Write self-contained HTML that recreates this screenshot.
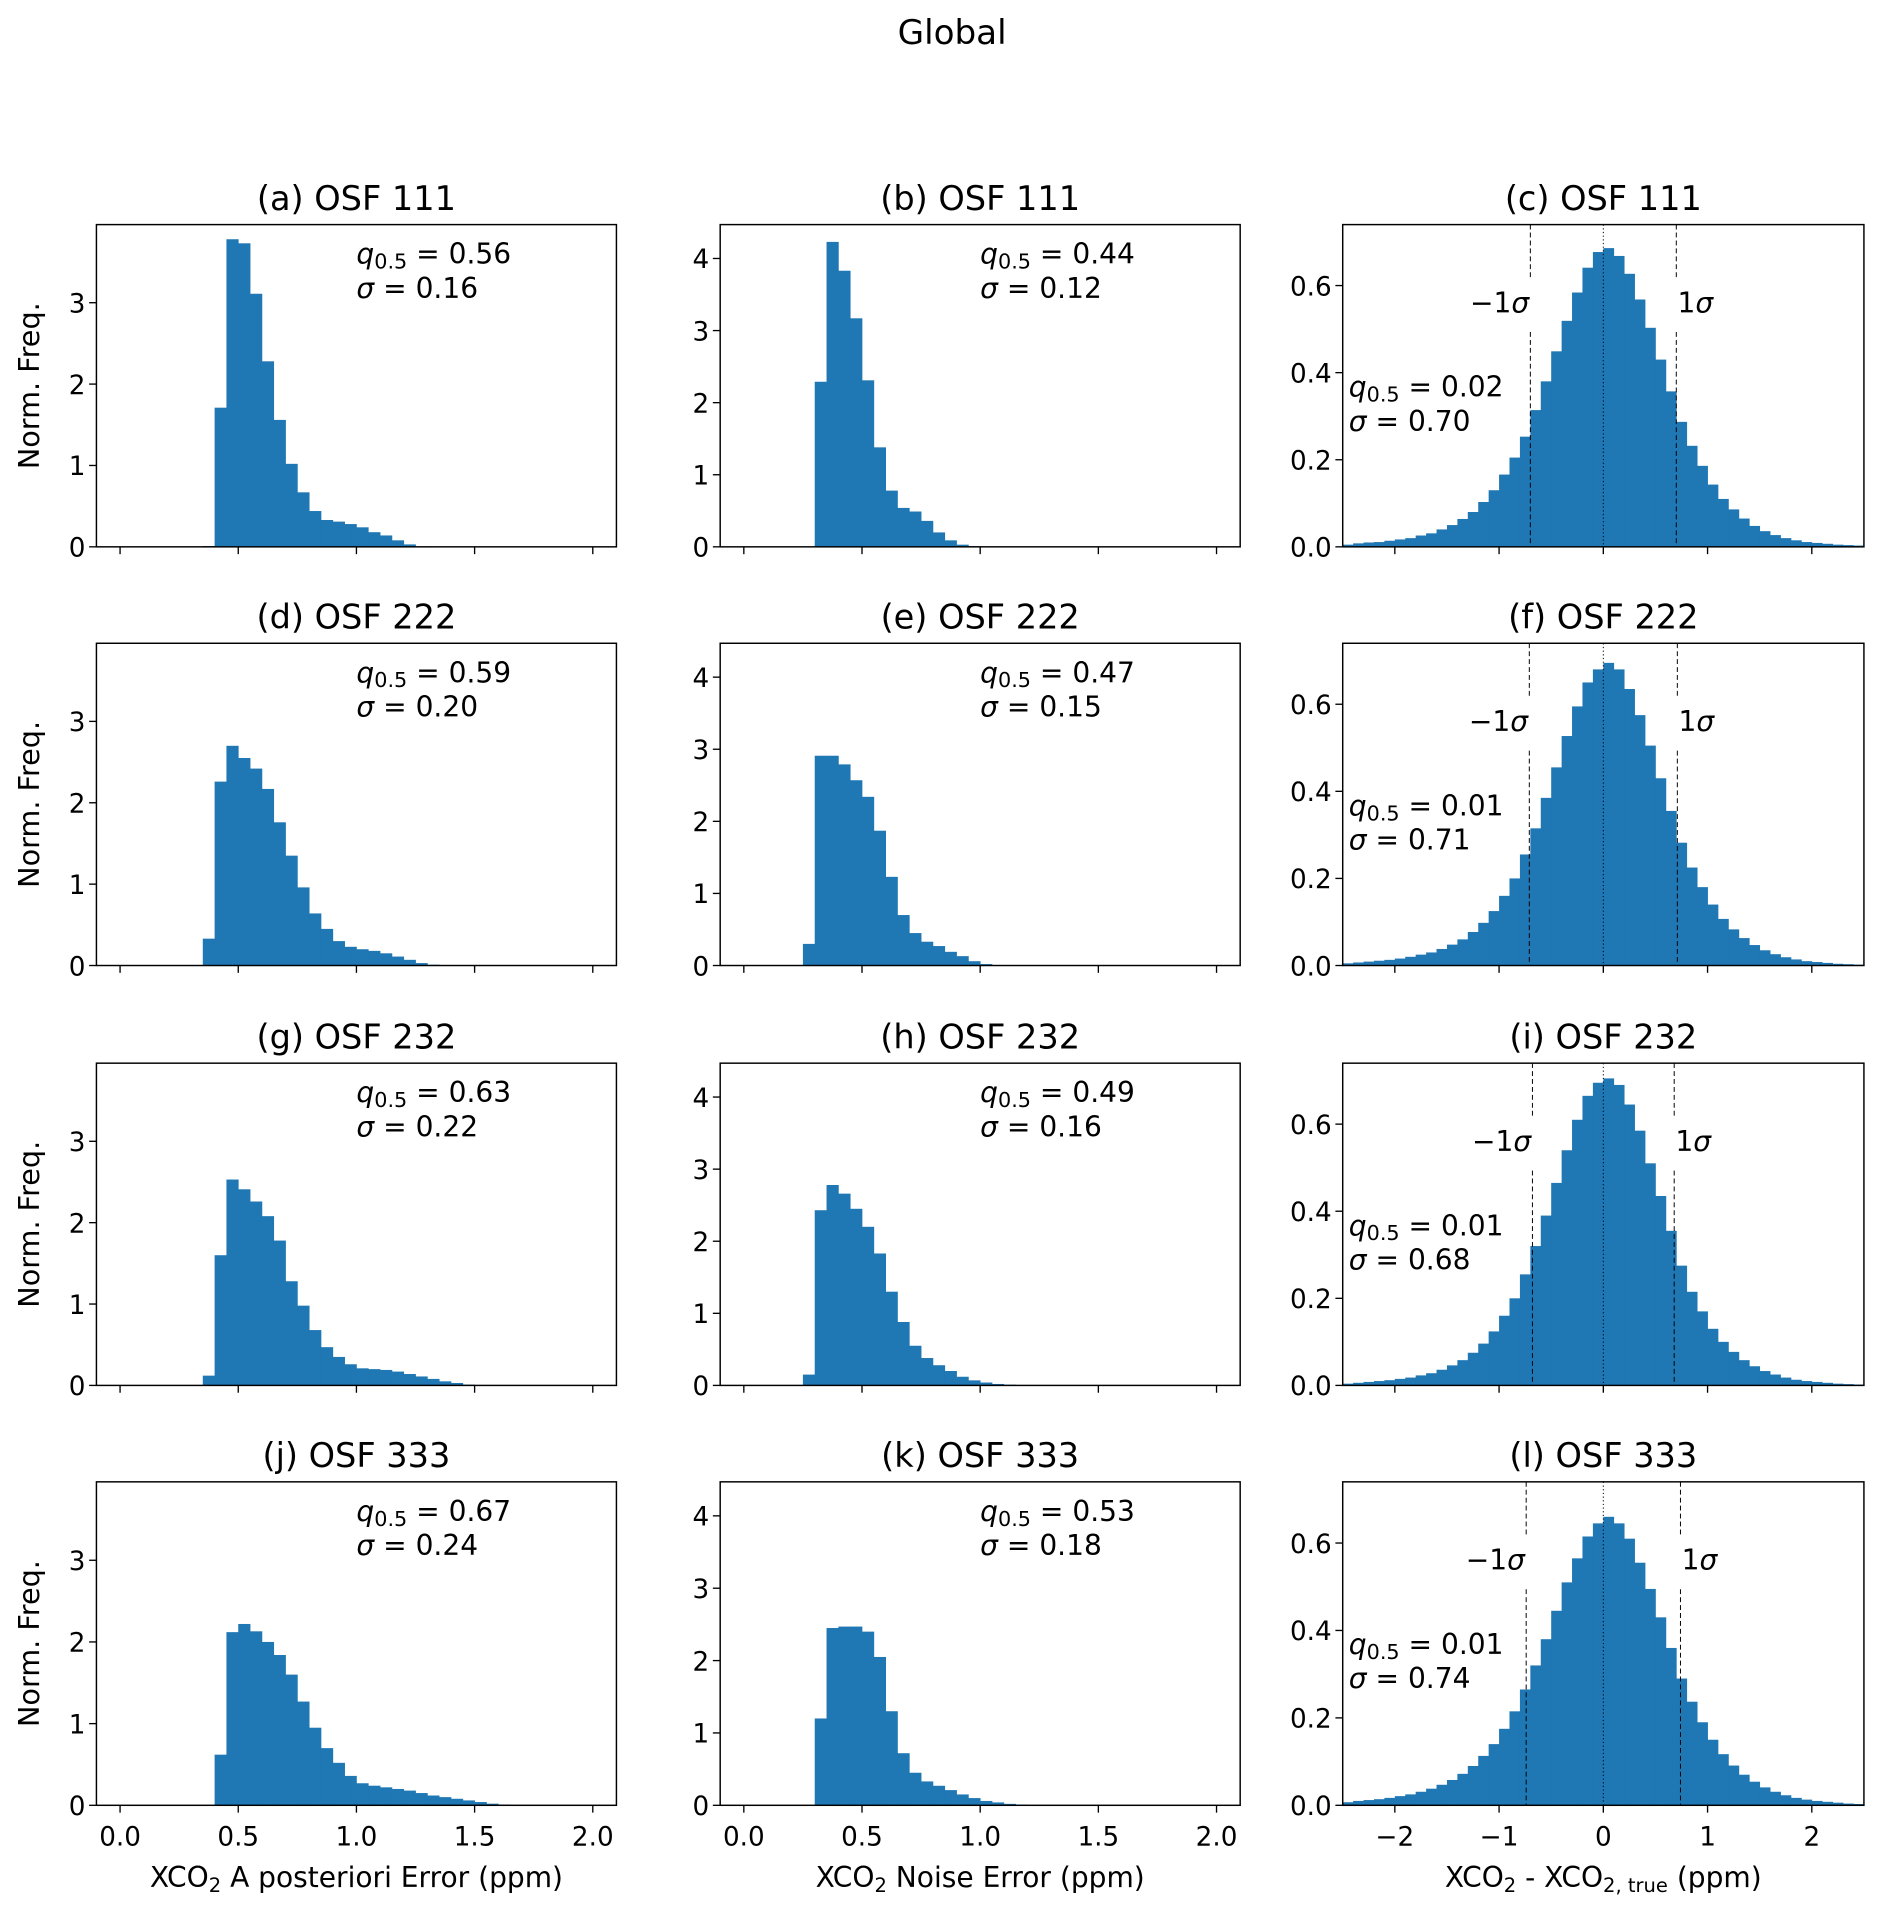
<!DOCTYPE html>
<html><head><meta charset="utf-8"><title>Global</title>
<style>
html,body{margin:0;padding:0;background:#fff;}
svg{display:block;}
text{font-family:"DejaVu Sans","Liberation Sans",sans-serif;fill:#000;}
</style></head>
<body>
<svg id="fig" width="1892" height="1922" viewBox="0 0 1550 1574.6" preserveAspectRatio="none" xmlns="http://www.w3.org/2000/svg">
<text x="780" y="36" font-size="28" text-anchor="middle">Global</text>
</svg>
<script>
// ---- data ----
const aStart = [0.35, 0.35, 0.35, 0.35];
const aVals1 = [0.01,1.71,3.78,3.73,3.11,2.28,1.56,1.02,0.67,0.44,0.33,0.31,0.28,0.24,0.18,0.14,0.08,0.03,0.005];
const aVals2 = [0.33,2.26,2.70,2.55,2.42,2.17,1.76,1.35,0.96,0.64,0.45,0.30,0.23,0.20,0.18,0.15,0.11,0.07,0.03,0.01];
const aVals3 = [0.12,1.60,2.53,2.41,2.26,2.08,1.78,1.28,0.98,0.68,0.47,0.35,0.26,0.21,0.20,0.19,0.17,0.14,0.11,0.08,0.05,0.03,0.01];
const aVals4 = [0.0,0.62,2.12,2.22,2.13,2.00,1.84,1.60,1.27,0.95,0.70,0.52,0.36,0.27,0.24,0.22,0.20,0.18,0.15,0.12,0.10,0.08,0.06,0.04,0.02,0.01];
const bStart = [0.30, 0.25, 0.25, 0.30];
const bVals1 = [2.29,4.23,3.83,3.17,2.31,1.38,0.78,0.54,0.49,0.36,0.20,0.09,0.03,0.01];
const bVals2 = [0.30,2.91,2.91,2.79,2.57,2.34,1.87,1.23,0.70,0.45,0.33,0.27,0.19,0.13,0.06,0.02];
const bVals3 = [0.15,2.43,2.78,2.66,2.45,2.20,1.83,1.30,0.88,0.55,0.38,0.28,0.20,0.12,0.07,0.04,0.02,0.01];
const bVals4 = [1.20,2.45,2.47,2.47,2.40,2.05,1.30,0.72,0.45,0.33,0.27,0.21,0.15,0.10,0.06,0.04,0.02,0.01];
const cStart = -2.5;
const cVals1 = [0.005,0.008,0.01,0.011,0.014,0.017,0.02,0.026,0.031,0.04,0.05,0.064,0.08,0.103,0.13,0.166,0.205,0.253,0.314,0.38,0.449,0.519,0.584,0.641,0.677,0.686,0.668,0.627,0.568,0.503,0.43,0.357,0.287,0.232,0.186,0.143,0.11,0.086,0.065,0.048,0.036,0.027,0.02,0.015,0.011,0.009,0.007,0.005,0.004,0.003];
const cVals2 = [0.005,0.007,0.009,0.011,0.013,0.016,0.02,0.025,0.03,0.038,0.048,0.06,0.077,0.098,0.125,0.16,0.2,0.255,0.315,0.385,0.455,0.527,0.595,0.65,0.68,0.695,0.68,0.635,0.575,0.505,0.43,0.355,0.282,0.225,0.18,0.14,0.107,0.083,0.063,0.047,0.035,0.026,0.019,0.014,0.01,0.008,0.006,0.004,0.003,0.002];
const cVals3 = [0.004,0.006,0.008,0.01,0.012,0.015,0.018,0.023,0.028,0.036,0.046,0.058,0.075,0.096,0.124,0.16,0.2,0.255,0.32,0.39,0.465,0.54,0.61,0.665,0.695,0.705,0.69,0.645,0.585,0.51,0.435,0.355,0.275,0.215,0.17,0.13,0.1,0.077,0.058,0.044,0.033,0.025,0.018,0.013,0.01,0.008,0.006,0.004,0.003,0.002];
const cVals4 = [0.007,0.01,0.012,0.014,0.017,0.021,0.025,0.031,0.038,0.047,0.058,0.072,0.09,0.113,0.14,0.175,0.215,0.265,0.32,0.38,0.445,0.51,0.565,0.615,0.645,0.66,0.645,0.61,0.555,0.495,0.43,0.36,0.29,0.237,0.19,0.15,0.117,0.091,0.07,0.054,0.041,0.031,0.023,0.017,0.013,0.01,0.008,0.006,0.004,0.003];
const titles = [["(a) OSF 111","(b) OSF 111","(c) OSF 111"],["(d) OSF 222","(e) OSF 222","(f) OSF 222"],["(g) OSF 232","(h) OSF 232","(i) OSF 232"],["(j) OSF 333","(k) OSF 333","(l) OSF 333"]];
const qA = ["0.56","0.59","0.63","0.67"], sA = ["0.16","0.20","0.22","0.24"];
const qB = ["0.44","0.47","0.49","0.53"], sB = ["0.12","0.15","0.16","0.18"];
const qC = ["0.02","0.01","0.01","0.01"], sC = ["0.70","0.71","0.68","0.74"];
const sigmaC = [0.70, 0.71, 0.68, 0.74];
const abTicks = [0.0,0.5,1.0,1.5,2.0];
const abTickLabels = ["0.0","0.5","1.0","1.5","2.0"];
const cTicks = [-2,-1,0,1,2];
const cTickLabels = ["\u22122","\u22121","0","1","2"];
const aYTicks = [0,1,2,3], bYTicks = [0,1,2,3,4];
const cYTicks = [0,0.2,0.4,0.6], cYTickLabels = ["0.0","0.2","0.4","0.6"];

// ---- layout ----
const NS = "http://www.w3.org/2000/svg";
const svg = document.getElementById('fig');
const colX = [[79,505],[590,1016],[1100,1527]];
const rowY = [[184,448],[527,791],[871,1135],[1214,1479]];
const colXlim = [[-0.1,2.1],[-0.1,2.1],[-2.5,2.5]];
const colYlim = [[0,3.96],[0,4.47],[0,0.74]];
const BW = [0.05,0.05,0.1];
const COLOR = "#1f77b4";

function mk(tag, attrs, parent){
  const e = document.createElementNS(NS, tag);
  for (const k in attrs) e.setAttribute(k, attrs[k]);
  (parent||svg).appendChild(e);
  return e;
}

const aAll=[aVals1,aVals2,aVals3,aVals4], bAll=[bVals1,bVals2,bVals3,bVals4], cAll=[cVals1,cVals2,cVals3,cVals4];

for (let r=0;r<4;r++){
  for (let c=0;c<3;c++){
    const [x0,x1]=colX[c], [y0,y1]=rowY[r];
    const [xa,xb]=colXlim[c], [ya,yb]=colYlim[c];
    const sx = v => x0 + (v-xa)/(xb-xa)*(x1-x0);
    const sy = v => y1 - (v-ya)/(yb-ya)*(y1-y0);
    const g = mk('g',{});
    
    
    const vals = c===0?aAll[r]:c===1?bAll[r]:cAll[r];
    const start = c===0?aStart[r]:c===1?bStart[r]:cStart;
    vals.forEach((v,i)=>{
      const l = sx(start+i*BW[c]), rr = sx(start+(i+1)*BW[c]);
      const b = mk('rect',{x:l,y:sy(v),width:rr-l+0.3,height:Math.max(0,y1-sy(v)),fill:COLOR},g);
      
      
    });
    if (c===2){
      const s = sigmaC[r];
      [-s,s].forEach(v=>{
        const X = sx(v);
        const ln1 = mk('line',{x1:X,y1:y0,x2:X,y2:y0+44,stroke:"#000","stroke-width":0.8,"stroke-dasharray":"4,2.5"},g);
        
        
        const ln2 = mk('line',{x1:X,y1:y0+88,x2:X,y2:y1,stroke:"#000","stroke-width":0.8,"stroke-dasharray":"4,2.5"},g);
        
        
      });
      const X0 = sx(0);
      const ml = mk('line',{x1:X0,y1:y0,x2:X0,y2:y1,stroke:"#000","stroke-width":0.8,"stroke-dasharray":"1,2"},g);
      
      
      const t1 = mk('text',{x:sx(-s)-1,y:y0+72,"font-size":23,"text-anchor":"end"},g);
      t1.innerHTML = '\u22121<tspan font-style="italic">\u03c3</tspan>';
      
      
      const t2 = mk('text',{x:sx(s)+1,y:y0+72,"font-size":23},g);
      t2.innerHTML = '1<tspan font-style="italic">\u03c3</tspan>';
      
      
    }
    const fr = mk('rect',{x:x0,y:y0,width:x1-x0,height:y1-y0,fill:"none",stroke:"#000","stroke-width":1.2},g);
    
    
    const xt = c===2?cTicks:abTicks, xl = c===2?cTickLabels:abTickLabels;
    xt.forEach((v,i)=>{
      const X=sx(v);
      mk('line',{x1:X,y1:y1,x2:X,y2:y1+6,stroke:"#000","stroke-width":1.1},g);
      if (r===3){
        const t = mk('text',{x:X,y:y1+33,"font-size":21.5,"text-anchor":"middle"},g);
        t.textContent = xl[i];
        
        
      }
    });
    const yt = c===0?aYTicks:c===1?bYTicks:cYTicks;
    yt.forEach((v,i)=>{
      const Y=sy(v);
      mk('line',{x1:x0-6,y1:Y,x2:x0,y2:Y,stroke:"#000","stroke-width":1.1},g);
      const t = mk('text',{x:x0-9,y:Y+8,"font-size":21.5,"text-anchor":"end"},g);
      t.textContent = c===2?cYTickLabels[i]:String(v);
      
      
    });
    const tt = mk('text',{x:(x0+x1)/2,y:y0-12,"font-size":27.5,"text-anchor":"middle"},g);
    tt.textContent = titles[r][c];
    
    
    const q = c===0?qA[r]:c===1?qB[r]:qC[r], s = c===0?sA[r]:c===1?sB[r]:sC[r];
    const ax = c===2? x0+5 : x0+213;
    const ay = c===2? y0+141 : y0+32;
    const a1 = mk('text',{x:ax,y:ay,"font-size":23},g);
    a1.innerHTML = '<tspan font-style="italic">q</tspan><tspan font-size="17" dy="4">0.5</tspan><tspan dy="-4"> = '+q+'</tspan>';
    
    
    const a2 = mk('text',{x:ax,y:ay+28,"font-size":23},g);
    a2.innerHTML = '<tspan font-style="italic">\u03c3</tspan> = '+s;
    
    
    if (c===0){
      const cy=(y0+y1)/2;
      const yl = mk('text',{x:32,y:cy,"font-size":23.5,"text-anchor":"middle",transform:"rotate(-90 32 "+cy+")"},g);
      yl.textContent = "Norm. Freq.";
      
      
    }
  }
}
const xTitles = [
  'XCO<tspan font-size="16" dy="4">2</tspan><tspan dy="-4"> A posteriori Error (ppm)</tspan>',
  'XCO<tspan font-size="16" dy="4">2</tspan><tspan dy="-4"> Noise Error (ppm)</tspan>',
  'XCO<tspan font-size="16" dy="4">2</tspan><tspan dy="-4"> - XCO</tspan><tspan font-size="16" dy="4">2, true</tspan><tspan dy="-4"> (ppm)</tspan>'
];
xTitles.forEach((h,c)=>{
  const t = mk('text',{x:(colX[c][0]+colX[c][1])/2,y:1546,"font-size":23,"text-anchor":"middle"});
  t.innerHTML = h;
  
  
});
</script>
</body></html>
